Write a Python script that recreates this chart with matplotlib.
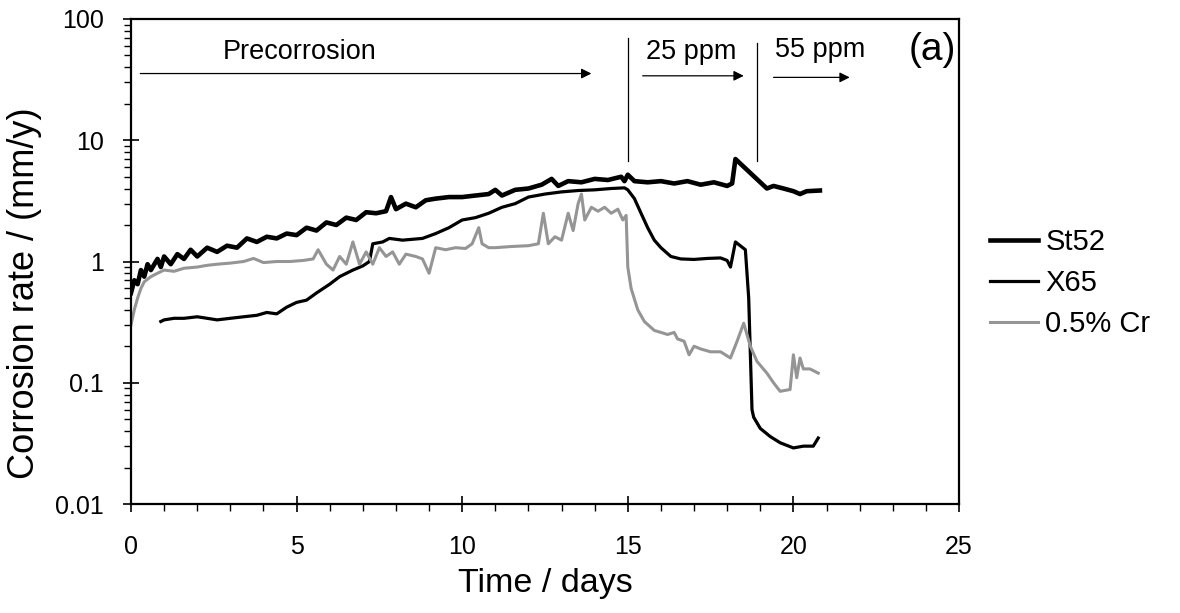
import matplotlib
matplotlib.use("Agg")
import matplotlib.pyplot as plt
from matplotlib.ticker import LogLocator, NullFormatter, FixedLocator

plt.rcParams['font.family'] = ['Liberation Sans', 'DejaVu Sans']

# ---------------- data ----------------
st52_t = [0.0, 0.1, 0.2, 0.3, 0.4, 0.5, 0.6, 0.8, 0.9, 1.0, 1.2, 1.4, 1.6, 1.8, 2.0,
          2.3, 2.6, 2.9, 3.2, 3.5, 3.8, 4.1, 4.4, 4.7, 5.0, 5.3, 5.6, 5.9, 6.2, 6.5,
          6.8, 7.1, 7.4, 7.7, 7.85, 8.0, 8.3, 8.6, 8.9, 9.2, 9.6, 10.0, 10.4, 10.8,
          11.0, 11.2, 11.6, 12.0, 12.4, 12.7, 12.9, 13.2, 13.6, 14.0, 14.4, 14.8,
          14.9, 15.0, 15.2, 15.6, 16.0, 16.4, 16.8, 17.2, 17.6, 18.0, 18.15, 18.25,
          19.2, 19.4, 19.7, 20.0, 20.2, 20.4, 20.8]
st52_v = [0.55, 0.7, 0.65, 0.85, 0.75, 0.95, 0.85, 1.05, 0.9, 1.1, 0.95, 1.15, 1.05, 1.25, 1.1,
          1.3, 1.2, 1.35, 1.3, 1.55, 1.45, 1.6, 1.55, 1.7, 1.65, 1.9, 1.8, 2.1, 2.0, 2.3,
          2.2, 2.55, 2.5, 2.6, 3.4, 2.7, 3.0, 2.8, 3.2, 3.3, 3.4, 3.4, 3.5, 3.6,
          3.9, 3.5, 3.9, 4.0, 4.3, 4.8, 4.2, 4.6, 4.5, 4.8, 4.7, 5.0,
          4.6, 5.2, 4.6, 4.5, 4.6, 4.4, 4.6, 4.3, 4.5, 4.2, 4.4, 7.0,
          4.0, 4.2, 4.0, 3.8, 3.6, 3.8, 3.85]

x65_t = [0.9, 1.0, 1.3, 1.6, 2.0, 2.3, 2.6, 3.0, 3.4, 3.8, 4.1, 4.4, 4.7, 5.0, 5.3,
         5.6, 6.0, 6.3, 6.7, 7.0, 7.2, 7.3, 7.6, 7.8, 8.2, 8.8, 9.2, 9.6, 10.0, 10.4,
         10.8, 11.2, 11.6, 12.0, 12.5, 13.0, 13.5, 14.0, 14.5, 14.9, 15.0, 15.2, 15.4,
         15.6, 15.8, 16.0, 16.3, 16.6, 17.0, 17.4, 17.8, 18.0, 18.1, 18.25, 18.55,
         18.65, 18.75, 18.8, 19.0, 19.3, 19.6, 20.0, 20.3, 20.6, 20.75]
x65_v = [0.32, 0.33, 0.34, 0.34, 0.35, 0.34, 0.33, 0.34, 0.35, 0.36, 0.38, 0.37, 0.42, 0.46, 0.48,
         0.55, 0.65, 0.75, 0.85, 0.92, 1.0, 1.4, 1.45, 1.55, 1.5, 1.55, 1.7, 1.9, 2.2, 2.3,
         2.5, 2.8, 3.0, 3.4, 3.6, 3.75, 3.85, 3.9, 4.0, 4.05, 3.9, 3.3, 2.5,
         1.9, 1.5, 1.3, 1.1, 1.05, 1.04, 1.06, 1.07, 1.02, 0.9, 1.45, 1.25,
         0.5, 0.06, 0.052, 0.042, 0.036, 0.032, 0.029, 0.030, 0.030, 0.035]

cr_t = [0.0, 0.1, 0.2, 0.3, 0.4, 0.6, 0.8, 1.0, 1.3, 1.6, 2.0, 2.3, 2.6, 3.0, 3.4,
        3.7, 4.0, 4.4, 4.8, 5.2, 5.5, 5.65, 5.9, 6.1, 6.3, 6.5, 6.7, 6.9, 7.1, 7.3,
        7.5, 7.7, 7.9, 8.1, 8.3, 8.6, 8.8, 9.0, 9.2, 9.5, 9.8, 10.1, 10.3, 10.5, 10.6,
        10.8, 11.0, 11.5, 12.0, 12.3, 12.45, 12.6, 12.8, 13.0, 13.2, 13.35, 13.5, 13.6,
        13.7, 13.9, 14.1, 14.3, 14.5, 14.7, 14.85, 14.95, 15.0, 15.1, 15.3, 15.5, 15.8,
        16.0, 16.2, 16.4, 16.5, 16.7, 16.85, 17.0, 17.2, 17.5, 17.8, 18.1, 18.3, 18.5,
        18.7, 18.9, 19.2, 19.4, 19.6, 19.9, 20.0, 20.1, 20.2, 20.3, 20.5, 20.75]
cr_v = [0.3, 0.4, 0.5, 0.6, 0.68, 0.75, 0.8, 0.85, 0.83, 0.88, 0.9, 0.93, 0.95, 0.97, 1.0,
        1.06, 0.98, 1.0, 1.0, 1.02, 1.05, 1.25, 0.95, 0.85, 1.1, 0.95, 1.45, 0.95, 1.2, 0.95,
        1.3, 1.1, 1.2, 0.95, 1.15, 1.1, 1.05, 0.8, 1.3, 1.25, 1.3, 1.28, 1.4, 1.9, 1.4,
        1.3, 1.3, 1.33, 1.35, 1.4, 2.5, 1.4, 1.6, 1.5, 2.5, 1.8, 3.0, 3.6,
        2.2, 2.8, 2.6, 2.8, 2.5, 2.7, 2.2, 2.4, 0.9, 0.6, 0.4, 0.32, 0.27,
        0.26, 0.25, 0.26, 0.23, 0.22, 0.17, 0.2, 0.19, 0.18, 0.18, 0.16, 0.22, 0.31,
        0.2, 0.15, 0.12, 0.1, 0.085, 0.088, 0.17, 0.11, 0.16, 0.13, 0.13, 0.12]

series_names = ['St52', 'X65', '0.5% Cr']
x_ticks = [0, 5, 10, 15, 20, 25]
y_ticks = [0.01, 0.1, 1, 10, 100]
y_tick_labels = ['0.01', '0.1', '1', '10', '100']

# ---------------- figure ----------------
W, H = 1180, 613
fig = plt.figure(figsize=(W / 100, H / 100), dpi=100)
ax = fig.add_axes([131 / W, 1 - 504 / H, (959 - 131) / W, (504 - 19) / H])

ax.plot(st52_t, st52_v, color='black', lw=3.3, label=series_names[0], solid_joinstyle='round')
ax.plot(x65_t, x65_v, color='black', lw=2.3, label=series_names[1], solid_joinstyle='round')
ax.plot(cr_t, cr_v, color='#959595', lw=2.2, label=series_names[2], solid_joinstyle='round')

ax.set_yscale('log')
ax.set_xlim(0, 25)
ax.set_ylim(0.01, 100)

ax.set_xticks(x_ticks)
ax.xaxis.set_minor_locator(FixedLocator([i for i in range(0, 26) if i % 5]))
ax.set_yticks(y_ticks)
ax.set_yticklabels(y_tick_labels)
ax.yaxis.set_minor_locator(LogLocator(base=10, subs=range(2, 10)))
ax.yaxis.set_minor_formatter(NullFormatter())

ax.tick_params(axis='both', which='major', direction='inout', length=11, width=1.2,
               labelsize=18, colors='black')
ax.tick_params(axis='both', which='minor', direction='out', length=5, width=1.0)
ax.tick_params(axis='x', which='major', pad=17)
ax.tick_params(axis='y', which='major', pad=14)
for s in ax.spines.values():
    s.set_linewidth(1.6)

ax.set_xlabel('Time / days', fontsize=24.5, labelpad=6)
ax.set_ylabel('Corrosion rate / (mm/y)', fontsize=26)
ax.yaxis.set_label_coords(-0.107, 0.435)

# annotations
arrow_kw = dict(arrowstyle='-|>', color='black', lw=0.9, mutation_scale=15,
                shrinkA=0, shrinkB=0)
ax.annotate('', xy=(13.9, 35.5), xytext=(0.28, 35.5), arrowprops=arrow_kw)
ax.text(5.1, 53, 'Precorrosion', fontsize=19.5, ha='center', va='center')
ax.annotate('', xy=(18.5, 34), xytext=(15.45, 34), arrowprops=arrow_kw)
ax.text(16.9, 53, '25 ppm', fontsize=19.5, ha='center', va='center')
ax.annotate('', xy=(21.7, 33), xytext=(19.4, 33), arrowprops=arrow_kw)
ax.text(20.8, 55, '55 ppm', fontsize=19.5, ha='center', va='center')
ax.text(24.2, 55, '(a)', fontsize=28, ha='center', va='center')
ax.plot([15.0, 15.0], [6.8, 70], color='black', lw=0.9)
ax.plot([18.9, 18.9], [6.8, 64], color='black', lw=0.9)

leg = ax.legend(loc='center left', bbox_to_anchor=(990 / W, 1 - 283 / H),
                bbox_transform=fig.transFigure, frameon=False, borderpad=0,
                borderaxespad=0, fontsize=21, handlelength=1.65, handletextpad=0.25,
                labelspacing=0.45)

fig.savefig('out.png', dpi=100)
